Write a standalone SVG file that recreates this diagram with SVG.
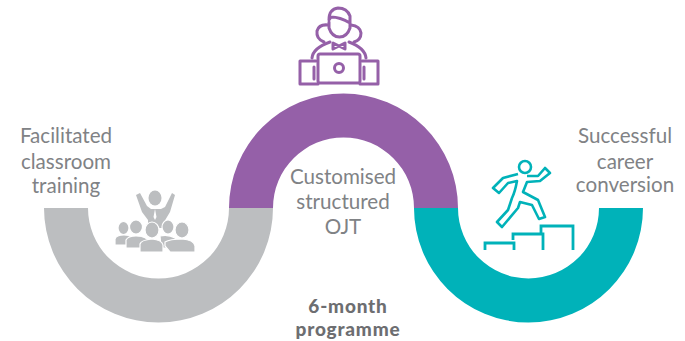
<svg xmlns="http://www.w3.org/2000/svg" width="685" height="341" viewBox="0 0 685 341">
<style>
.t{font-family:"Lato","Liberation Sans",sans-serif;font-size:20.6px;fill:#808285;text-anchor:middle}
.b{font-family:"Lato","Liberation Sans",sans-serif;font-size:19px;font-weight:900;letter-spacing:.8px;fill:#6d6e71;text-anchor:middle}
.p{fill:none;stroke:#9560a8;stroke-width:3;stroke-linejoin:round;stroke-linecap:round}
.r{fill:none;stroke:#00b2b9;stroke-width:2.800;stroke-linejoin:miter}
.g{fill:#bcbec0}
.o{fill:#bcbec0;stroke:#fff;stroke-width:1.200}
</style>
<g id="band-classroom"><path d="M44 208A114.500 114.500 0 0 0 273 208H229A70.500 70.500 0 0 1 88 208Z" fill="#bcbec0"/></g>
<g id="band-ojt"><path d="M229 208A114.500 114.500 0 0 1 458 208H414A70.500 70.500 0 0 0 273 208Z" fill="#9560a8"/></g>
<g id="band-career"><path d="M414 208A114.500 114.500 0 0 0 643 208H599A70.500 70.500 0 0 1 458 208Z" fill="#00b2b9"/></g>
<g id="icon-audience">
<path class="g" d="M136 195L140 193L147 206L151 209H161L165 207L172 193L175 195L170 212L164 222V228H148V220L142 212Z"/>
<ellipse class="g" cx="155" cy="198" rx="6.500" ry="7.500"/>
<path d="M155 209L156.500 217L155 220L153.500 217Z" fill="#fff"/>
<ellipse class="o" cx="123.500" cy="228" rx="5.500" ry="6.500"/><path class="o" d="M115 245V239Q116 235 124 235Q132 235 135 241V245Z"/>
<ellipse class="o" cx="168" cy="227" rx="6" ry="7"/><path class="o" d="M160 236Q168 234 175 238L178 244V248H161Z"/>
<ellipse class="o" cx="136" cy="227" rx="6.500" ry="7"/><path class="o" d="M126 248V240Q128 236 136 236Q146 236 150 242V248Z"/>
<ellipse class="o" cx="152" cy="230" rx="7" ry="8"/><path class="o" d="M140 252V244Q141 240 152 239Q162 240 163 245V252Z"/>
<ellipse class="o" cx="182" cy="230" rx="7" ry="8"/><path class="o" d="M165 246V242Q170 239 182 239Q194 240 195 246V252H170Z"/>
</g>
<g id="icon-worker">
<path class="p" d="M329 22V28Q332 37 339.500 37Q347 37 350 28V16Q347 8 338 8Q329 9 329 20L331 17Q340 17 350 23"/>
<path class="p" d="M328 25Q319 24 317 31Q316 39 324 42M351 25Q360 26 361 33Q361 40 354 42"/>
<path class="p" d="M312 58Q313 48 330 42M366 58Q365 48 349 42"/>
<path class="p" d="M333 43L339 46L345 43V49L339 46L333 49Z" stroke-width="2.400"/>
<rect class="p" x="318" y="54" width="42" height="29" rx="2"/>
<circle class="p" cx="339" cy="68" r="4.500"/>
<path class="p" d="M316 61H300V84H318M362 61H378V84H360"/>
<path class="p" d="M314 67V79M364 67V79"/>
</g>
<g id="icon-runner">
<circle cx="525" cy="167" r="6" fill="none" stroke="#00b2b9" stroke-width="2.600"/>
<path fill="none" stroke="#00b2b9" stroke-width="2.600" stroke-linejoin="round" d="M518 174L503 178L493 188L499 193L508 183L517 181Q515 192 512 198L508 210L497 222L502 227L518 208L520 202L532 205L539 219L545 217L538 200L523 192L527 182L540 181L550 173L545 168L538 176L527 176"/>
<path class="r" d="M485 250V243H514V250M513 240V234H543V250M541 234V226H573V250"/>
</g>
<g id="label-classroom"><text class="t" x="66" y="143">Facilitated</text><text class="t" x="66" y="169">classroom</text><text class="t" x="66" y="193">training</text></g>
<g id="label-ojt"><text class="t" x="343" y="184">Customised</text><text class="t" x="343" y="209">structured</text><text class="t" x="343" y="234">OJT</text></g>
<g id="label-career"><text class="t" x="625" y="143">Successful</text><text class="t" x="625" y="169">career</text><text class="t" x="625" y="192">conversion</text></g>
<g id="label-duration"><text class="b" x="348" y="313">6-month</text><text class="b" x="348" y="336">programme</text></g>
<g id="connectors"/>
</svg>
